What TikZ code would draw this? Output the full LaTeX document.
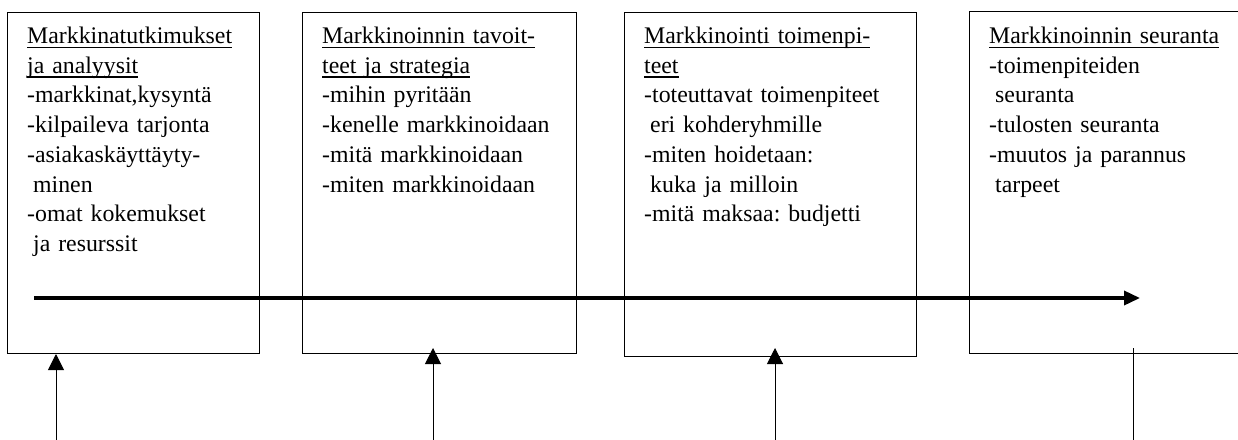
\documentclass[tikz,border=0pt]{standalone}
\usepackage{fontspec}
\setmainfont{Liberation Serif}
\usetikzlibrary{arrows.meta}
\frenchspacing
\newsavebox{\headbox}
\newcommand{\ulhead}[1]{\leavevmode\sbox{\headbox}{#1}\rlap{\rule[-4.5pt]{\wd\headbox}{1.5pt}}\usebox{\headbox}}
\newcommand{\contind}{\hspace*{6pt}}
\begin{document}
\begin{tikzpicture}[x=1pt,y=-1pt,
        box/.style = {draw,line width=1pt,anchor=north west,inner sep=0pt},
        txt/.style = {anchor=base west,inner sep=0pt,text width=270pt,align=left,
                      font=\fontsize{23.8pt}{29.7pt}\selectfont},
        feed/.style = {line width=1pt,-{Triangle[width=16pt,length=16pt]}},
        flow/.style = {line width=3.5pt,-{Triangle[width=14pt,length=16pt]}}]
    \useasboundingbox (0,0) rectangle (1238,439);

    \node[box,minimum width=252pt,minimum height=341pt] (research) at (7,12) {};
    \node[box,minimum width=274pt,minimum height=341pt] (goals) at (302,12) {};
    \node[box,minimum width=292pt,minimum height=344pt] (actions) at (624,12) {};
    \node[box,minimum width=281pt,minimum height=342pt] (followup) at (969,11) {};

    \node[txt] (researchtxt) at (27,43.5)
        {\ulhead{Markkinatutkimukset}\\
         \ulhead{ja analyysit}\\
         -markkinat,kysyntä\\
         -kilpaileva tarjonta\\
         -asiakaskäyttäyty-\\
         \contind minen\\
         -omat kokemukset\\
         \contind ja resurssit};
    \node[txt] (goalstxt) at (322,43.5)
        {\ulhead{Markkinoinnin tavoit-}\\
         \ulhead{teet ja strategia}\\
         -mihin pyritään\\
         -kenelle markkinoidaan\\
         -mitä markkinoidaan\\
         -miten markkinoidaan};
    \node[txt] (actionstxt) at (644,43.5)
        {\ulhead{Markkinointi toimenpi-}\\
         \ulhead{teet}\\
         -toteuttavat toimenpiteet\\
         \contind eri kohderyhmille\\
         -miten hoidetaan:\\
         \contind kuka ja milloin\\
         -mitä maksaa: budjetti};
    \node[txt] (followuptxt) at (989,43.5)
        {\ulhead{Markkinoinnin seuranta}\\
         -toimenpiteiden\\
         \contind seuranta\\
         -tulosten seuranta\\
         -muutos ja parannus\\
         \contind tarpeet};

    \coordinate (start) at (34,298);
    \coordinate (finish) at (1140,298);
    \draw[flow] (start) -- (finish);

    \coordinate (in1) at (56,440);
    \coordinate (in2) at (433,440);
    \coordinate (in3) at (775,440);
    \coordinate (in4) at (1133,440);
    \draw[feed] (in1) -- (in1 |- research.south);
    \draw[feed,shorten >=-6pt] (in2) -- (in2 |- goals.south);
    \draw[feed,shorten >=-9pt] (in3) -- (in3 |- actions.south);
    \draw[line width=1pt,shorten >=-6pt] (in4) -- (in4 |- followup.south);
\end{tikzpicture}
\end{document}
